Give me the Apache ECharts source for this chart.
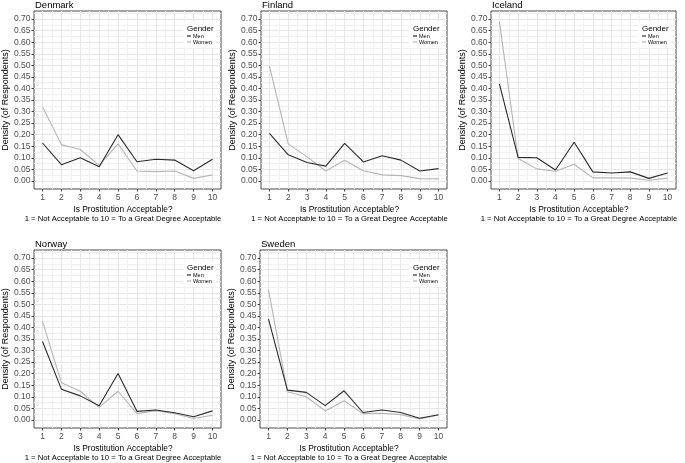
<!DOCTYPE html>
<html>
<head>
<meta charset="utf-8">
<script src="https://cdn.jsdelivr.net/npm/echarts@6/dist/echarts.min.js"></script>
<style>html,body{margin:0;padding:0;background:#fff;}#c{width:685px;height:463px;}</style>
</head>
<body>
<div id="c"></div>
<script>
// ---- data ----
const countries = ['Denmark', 'Finland', 'Iceland', 'Norway', 'Sweden'];
const genders = ['Men', 'Women'];
const xTicks = [1, 2, 3, 4, 5, 6, 7, 8, 9, 10];
const yTicks = [0, 0.05, 0.10, 0.15, 0.20, 0.25, 0.30, 0.35, 0.40, 0.45, 0.50, 0.55, 0.60, 0.65, 0.70];
const denmarkMen   = [0.164, 0.070, 0.100, 0.061, 0.200, 0.083, 0.094, 0.090, 0.044, 0.094];
const denmarkWomen = [0.321, 0.157, 0.136, 0.067, 0.160, 0.043, 0.040, 0.043, 0.011, 0.026];
const finlandMen   = [0.206, 0.113, 0.080, 0.064, 0.162, 0.082, 0.109, 0.090, 0.043, 0.053];
const finlandWomen = [0.497, 0.160, 0.104, 0.043, 0.089, 0.044, 0.026, 0.023, 0.010, 0.009];
const icelandMen   = [0.420, 0.102, 0.100, 0.047, 0.167, 0.039, 0.034, 0.039, 0.011, 0.034];
const icelandWomen = [0.690, 0.097, 0.052, 0.042, 0.072, 0.013, 0.013, 0.012, 0.003, 0.012];
const norwayMen    = [0.339, 0.133, 0.104, 0.061, 0.201, 0.037, 0.043, 0.031, 0.014, 0.039];
const norwayWomen  = [0.426, 0.161, 0.124, 0.054, 0.124, 0.027, 0.040, 0.027, 0.006, 0.020];
const swedenMen    = [0.436, 0.129, 0.119, 0.062, 0.126, 0.032, 0.043, 0.032, 0.007, 0.022];
const swedenWomen  = [0.564, 0.122, 0.100, 0.039, 0.083, 0.027, 0.029, 0.023, 0.004, 0.021];
const seriesData = {
  Denmark: [denmarkMen, denmarkWomen],
  Finland: [finlandMen, finlandWomen],
  Iceland: [icelandMen, icelandWomen],
  Norway:  [norwayMen, norwayWomen],
  Sweden:  [swedenMen, swedenWomen]
};
const xTitle1 = 'Is Prostitution Acceptable?';
const xTitle2 = '1 = Not Acceptable to 10 = To a Great Degree Acceptable';
const yTitle = 'Density (of Respondents)';
const legendTitle = 'Gender';

// ---- layout / style ----
const panels = [
  {left: 34,  top: 11,  width: 187, height: 178},
  {left: 261, top: 11,  width: 186, height: 178},
  {left: 491, top: 11,  width: 185, height: 178},
  {left: 34,  top: 250, width: 187, height: 178},
  {left: 260, top: 250, width: 187, height: 178}
];
const FONT = '"Liberation Sans", Arial, sans-serif';
const lineColors = ['#2b2b2b', '#b5b5b5'];
const minorX = xTicks.slice(0, -1).map((v, i) => (v + xTicks[i + 1]) / 2);
const minorY = yTicks.map(v => +(v + 0.025).toFixed(3));

const grid = [], xAxis = [], yAxis = [], series = [], title = [], legend = [];
countries.forEach((name, i) => {
  const p = panels[i];
  grid.push({left: p.left, top: p.top, width: p.width, height: p.height,
    show: true, borderColor: '#4a4a4a', borderWidth: 1, backgroundColor: '#fff', containLabel: false});
  // major x axis
  xAxis.push({type: 'value', gridIndex: i, min: 0.55, max: 10.45, position: 'bottom',
    axisLine: {show: false, onZero: false},
    axisTick: {show: true, customValues: xTicks, length: 2.5, lineStyle: {color: '#444'}},
    axisLabel: {show: true, customValues: xTicks, margin: 4, color: '#4d4d4d', fontSize: 8.5, fontFamily: FONT},
    splitLine: {show: true, lineStyle: {color: '#e6e6e6', width: 1}},
    name: '{a|' + xTitle1 + '}\n{b|' + xTitle2 + '}',
    nameLocation: 'middle', nameGap: 16,
    nameTextStyle: {color: '#000', fontFamily: FONT, padding: [0, 9, 0, 0],
      rich: {a: {fontSize: 8.4, lineHeight: 9, fontFamily: FONT, color: '#000'},
             b: {fontSize: 7.7, lineHeight: 9, fontFamily: FONT, color: '#000'}}}
  });
  // minor x axis (grid only)
  xAxis.push({type: 'value', gridIndex: i, min: 0.55, max: 10.45, position: 'bottom',
    axisLine: {show: false, onZero: false}, axisLabel: {show: false},
    axisTick: {show: false, customValues: minorX},
    splitLine: {show: true, lineStyle: {color: '#f0f0f0', width: 1}}
  });
  yAxis.push({type: 'value', gridIndex: i, min: -0.035, max: 0.735, position: 'left',
    axisLine: {show: false, onZero: false},
    axisTick: {show: true, customValues: yTicks, length: 2.5, lineStyle: {color: '#444'}},
    axisLabel: {show: true, customValues: yTicks, margin: 3.5, color: '#4d4d4d', fontSize: 8.5, fontFamily: FONT,
      formatter: v => v.toFixed(2)},
    splitLine: {show: true, lineStyle: {color: '#e6e6e6', width: 1}},
    name: yTitle, nameLocation: 'middle', nameGap: 24,
    nameTextStyle: {color: '#000', fontSize: 9, fontFamily: FONT}
  });
  yAxis.push({type: 'value', gridIndex: i, min: -0.035, max: 0.735, position: 'left',
    axisLine: {show: false, onZero: false}, axisLabel: {show: false},
    axisTick: {show: false, customValues: minorY},
    splitLine: {show: true, lineStyle: {color: '#f0f0f0', width: 1}}
  });
  genders.forEach((g, k) => {
    series.push({type: 'line', name: g, xAxisIndex: 2 * i, yAxisIndex: 2 * i,
      data: seriesData[name][k].map((v, j) => [xTicks[j], v]),
      symbol: 'none', silent: true,
      lineStyle: {color: lineColors[k], width: 1.1}, itemStyle: {color: lineColors[k]}, z: 3 - k
    });
  });
  title.push({text: name, left: p.left + 1, top: p.top - 11, padding: 0,
    textStyle: {fontSize: 9.5, fontWeight: 'normal', color: '#000', fontFamily: FONT}});
  title.push({text: legendTitle, left: p.left + p.width - 34, top: p.top + 13.5, padding: 0, z: 10,
    textStyle: {fontSize: 8, fontWeight: 'normal', color: '#000', fontFamily: FONT}});
  legend.push({data: genders, orient: 'vertical', left: p.left + p.width - 38, top: p.top + 11,
    padding: [11, 4, 3, 4], backgroundColor: '#fff', itemGap: 0, itemWidth: 4, itemHeight: 1.2,
    icon: 'rect', selectedMode: false,
    textStyle: {fontSize: 5.5, lineHeight: 6, color: '#000', fontFamily: FONT, padding: [0, 0, 0, -3]}
  });
});

const chart = echarts.init(document.getElementById('c'), null, {renderer: 'canvas'});
chart.setOption({animation: false, backgroundColor: '#fff', grid, xAxis, yAxis, series, title, legend});
</script>
</body>
</html>
